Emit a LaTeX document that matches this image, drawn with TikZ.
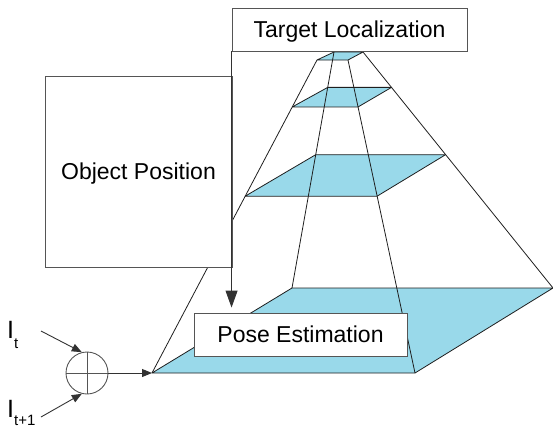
\documentclass[tikz,border=0pt]{standalone}
\usepackage{fontspec}
\setmainfont{Liberation Sans}
\usetikzlibrary{calc,arrows.meta}
\definecolor{planefill}{RGB}{153,217,234}
\definecolor{boxline}{RGB}{85,85,85}
\definecolor{edgeline}{RGB}{30,30,30}
\definecolor{arrline}{RGB}{50,50,50}
\begin{document}
\begin{tikzpicture}[x=1pt,y=-1pt,
  box/.style={draw=boxline, fill=white, line width=0.9pt, inner sep=0pt,
    font=\fontsize{23}{27}\selectfont, text height=16.5pt, text depth=0pt},
  plane/.style={fill=planefill, draw=edgeline, line width=0.8pt, line join=round},
  edgeln/.style={draw=edgeline, line width=0.8pt},
  arr/.style={draw=arrline, line width=0.9pt, -{Triangle[length=10pt,width=8pt]}},
  bigarr/.style={draw=arrline, line width=0.9pt, -{Triangle[length=17pt,width=12pt]}}]
\useasboundingbox (0,0) rectangle (553,428);
% pyramid corners
\coordinate (b1) at (152,373);
\coordinate (b2) at (415,373);
\coordinate (b3) at (553,288);
\coordinate (b4) at (292,288);
\coordinate (t1) at (317,60);
\coordinate (t2) at (348,60);
\coordinate (t3) at (363,52);
\coordinate (t4) at (334,52);
\foreach \i in {1,2,3,4}{
  \coordinate (m\i) at ($(b\i)!0.565!(t\i)$);
  \coordinate (n\i) at ($(b\i)!0.85!(t\i)$);
}
% planes
\draw[plane] (b1) -- (b2) -- (b3) -- (b4) -- cycle;
\draw[plane] (m1) -- (m2) -- (m3) -- (m4) -- cycle;
\draw[plane] (n1) -- (n2) -- (n3) -- (n4) -- cycle;
\draw[plane] (t1) -- (t2) -- (t3) -- (t4) -- cycle;
% edges
\foreach \i in {1,2,3,4}{ \draw[edgeln] (b\i) -- (t\i); }
% boxes
\node[box, minimum width=187pt, minimum height=191pt] (op) at (138.5,171.5) {Object Position};
\node[box, minimum width=235pt, minimum height=43pt] (tl) at (349.5,29.5) {Target Localization};
\node[box, minimum width=213pt, minimum height=43pt] (pe) at (300.5,334.5) {Pose Estimation};
\draw[bigarr, shorten >=5pt] (tl.south west) -- (tl.south west |- pe.north);
% sum junction
\node[circle, draw=boxline, line width=0.9pt, minimum size=42pt, inner sep=0pt] (sum) at (87,373) {};
\draw[draw=boxline, line width=0.9pt] (sum.north) -- (sum.south) (sum.west) -- (sum.east);
\node[anchor=base west, inner sep=0pt, font=\fontsize{25}{25}\selectfont] (it) at (7,338)
  {I\raisebox{-10pt}{\fontsize{15}{15}\selectfont t}};
\node[anchor=base west, inner sep=0pt, font=\fontsize{25}{25}\selectfont] (it1) at (7,417)
  {I\raisebox{-8.5pt}{\fontsize{15}{15}\selectfont t+1}};
\coordinate (a1) at (41,331);
\coordinate (a2) at (41,417);
\draw[arr] (a1) -- (sum.104);
\draw[arr] (a2) -- (sum.256);
\draw[arr] (sum.east) -- (b1);
\end{tikzpicture}
\end{document}
